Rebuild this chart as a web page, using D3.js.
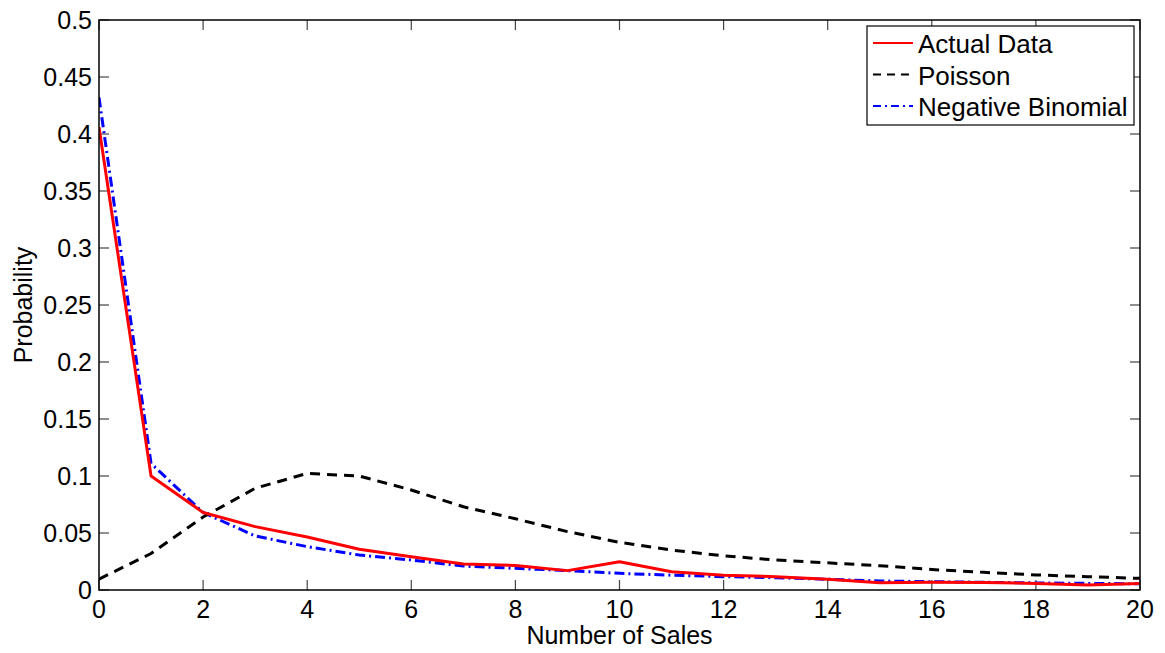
<!DOCTYPE html>
<html><head><meta charset="utf-8">
<script src="https://cdn.jsdelivr.net/npm/d3@7"></script>
<style>body{margin:0;background:#fff}svg{display:block}text{font-family:"Liberation Sans",Arial,Helvetica,sans-serif}</style>
</head><body><svg id="c" width="1165" height="653"></svg>
<script>
const salesCounts = d3.range(0, 21);
const actualData = [0.406,0.100,0.068,0.0556,0.0465,0.0357,0.0292,0.0228,0.0215,0.017,0.0248,0.016,0.013,0.0117,0.0095,0.0064,0.0067,0.0065,0.0058,0.0044,0.0058];
const poisson = [0.0096,0.032,0.064,0.0892,0.1023,0.100,0.0877,0.073,0.0625,0.0512,0.0418,0.035,0.030,0.0263,0.0238,0.0213,0.018,0.0155,0.0132,0.0117,0.0102];
const negBinomial = [0.432,0.111,0.068,0.0474,0.038,0.0307,0.0263,0.021,0.019,0.017,0.0146,0.013,0.0117,0.0108,0.0094,0.0079,0.0073,0.0068,0.0062,0.0058,0.0055];
const xTicks = d3.range(0, 21, 2);
const yTicks = [0,0.05,0.1,0.15,0.2,0.25,0.3,0.35,0.4,0.45,0.5];
const yTickLabels = ["0","0.05","0.1","0.15","0.2","0.25","0.3","0.35","0.4","0.45","0.5"];
const seriesNames = ["Actual Data","Poisson","Negative Binomial"];

const svg = d3.select("#c");
const L=99, R=1140, T=20, B=590;
const x = d3.scaleLinear().domain([0,20]).range([L,R]);
const y = d3.scaleLinear().domain([0,0.5]).range([B,T]);
const fs = 25;

const tl = 10;
const g = svg.append("g");
xTicks.forEach(t=>{
  g.append("line").attr("x1",x(t)).attr("x2",x(t)).attr("y1",B).attr("y2",B-tl).attr("stroke","#444").attr("stroke-width",1.2);
  g.append("line").attr("x1",x(t)).attr("x2",x(t)).attr("y1",T).attr("y2",T+tl).attr("stroke","#444").attr("stroke-width",1.2);
  g.append("text").attr("x",x(t)).attr("y",618).attr("text-anchor","middle").attr("font-size",fs).text(t);
});
yTicks.forEach((t,i)=>{
  g.append("line").attr("x1",L).attr("x2",L+tl).attr("y1",y(t)).attr("y2",y(t)).attr("stroke","#444").attr("stroke-width",1.2);
  g.append("line").attr("x1",R).attr("x2",R-tl).attr("y1",y(t)).attr("y2",y(t)).attr("stroke","#444").attr("stroke-width",1.2);
  g.append("text").attr("x",L-7).attr("y",y(t)+9).attr("text-anchor","end").attr("font-size",fs).text(yTickLabels[i]);
});

const line = d3.line().x((d,i)=>x(salesCounts[i])).y(d=>y(d));
const styles = [
  {data:actualData,color:"#ff0000",dash:null},
  {data:poisson,color:"#000000",dash:"10,7"},
  {data:negBinomial,color:"#0000ff",dash:"10,4,2,4"}
];
svg.append("clipPath").attr("id","pc").append("rect").attr("x",L).attr("y",T).attr("width",R-L).attr("height",B-T);
const plot = svg.append("g").attr("clip-path","url(#pc)");
[2,1,0].forEach(i=>{
  const s=styles[i];
  plot.append("path").datum(s.data).attr("d",line).attr("fill","none").attr("stroke",s.color)
    .attr("stroke-width",3).attr("stroke-dasharray",s.dash).attr("stroke-linejoin","round");
});

svg.append("rect").attr("x",L).attr("y",T).attr("width",R-L).attr("height",B-T).attr("fill","none").attr("stroke","#000").attr("stroke-width",1.5);

svg.append("text").attr("x",(L+R)/2).attr("y",644).attr("text-anchor","middle").attr("font-size",fs).text("Number of Sales");
svg.append("text").attr("transform",`translate(32,${(T+B)/2}) rotate(-90)`).attr("text-anchor","middle").attr("font-size",fs).text("Probability");

const lg = svg.append("g");
lg.append("rect").attr("x",867).attr("y",26).attr("width",267).attr("height",99).attr("fill","#fff").attr("stroke","#000").attr("stroke-width",1.2);
seriesNames.forEach((n,i)=>{
  const base = 53 + i*31.5;
  lg.append("line").attr("x1",873).attr("x2",913).attr("y1",base-10).attr("y2",base-10).attr("stroke",styles[i].color)
    .attr("stroke-width",2).attr("stroke-dasharray",i===1?"8,6":(i===2?"8,4,2,4":null));
  lg.append("text").attr("x",918).attr("y",base).attr("font-size",26).text(n);
});
</script></body></html>
